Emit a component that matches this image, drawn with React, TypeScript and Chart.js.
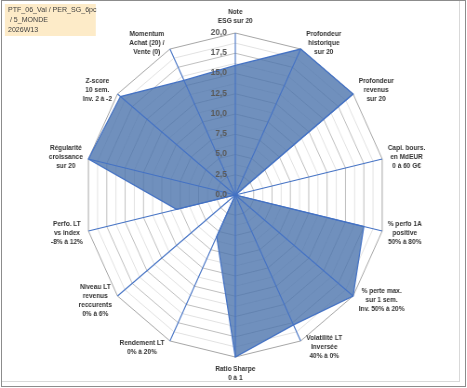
import React, { useEffect, useRef } from 'react';
import { Chart, registerables } from 'chart.js';

Chart.register(...registerables);

const categories: string[][] = [
  ['Note', 'ESG sur 20'],
  ['Profondeur', 'historique', 'sur 20'],
  ['Profondeur', 'revenus', 'sur 20'],
  ['Capi. bours.', 'en MdEUR', '0 à 60 G€'],
  ['% perfo 1A', 'positive', '50% à 80%'],
  ['% perte max.', 'sur 1 sem.', 'Inv. 50% à 20%'],
  ['Volatilité LT', 'Inversée', '40% à 0%'],
  ['Ratio Sharpe', '0 à 1'],
  ['Rendement LT', '0% à 20%'],
  ['Niveau LT', 'revenus', 'reccurents', '0% à 6%'],
  ['Perfo. LT', 'vs index', '-8% à 12%'],
  ['Régularité', 'croissance', 'sur 20'],
  ['Z-score', '10 sem.', 'Inv. 2 à -2'],
  ['Momentum', 'Achat (20) /', 'Vente (0)'],
];

const scores: number[] = [16, 20, 20, 0, 17.5, 20, 17.8, 20, 5.7, 0, 8, 20, 19.5, 15.7];

const tickValues: number[] = [0, 2.5, 5, 7.5, 10, 12.5, 15, 17.5, 20];

const titleLines: string[] = ['PTF_06_Val / PER_SG_6pc', ' / 5_MONDE', '2026W13'];

const SCALE_X = 0.93;
const FONT = '"Liberation Sans", Arial, sans-serif';

const overlayPlugin = {
  id: 'overlay',
  afterDatasetsDraw(chart: any) {
    const s = chart.scales.r;
    const ctx: CanvasRenderingContext2D = chart.ctx;
    const n = categories.length;
    const r = s.drawingArea;
    ctx.save();
    // spokes
    ctx.strokeStyle = '#4472C4';
    ctx.lineWidth = 1.1;
    for (let i = 0; i < n; i++) {
      const p = s.getPointPosition(i, r);
      ctx.beginPath();
      ctx.moveTo(s.xCenter, s.yCenter);
      ctx.lineTo(p.x, p.y);
      ctx.stroke();
    }
    // tick labels
    ctx.font = 'bold 9px ' + FONT;
    ctx.fillStyle = '#595959';
    ctx.textAlign = 'right';
    ctx.textBaseline = 'middle';
    tickValues.forEach((v) => {
      const d = s.getDistanceFromCenterForValue(v);
      ctx.fillText(v.toFixed(1).replace('.', ','), s.xCenter - 9, s.yCenter - d - 0.5);
    });
    // point labels
    ctx.font = 'bold 7px ' + FONT;
    ctx.fillStyle = '#333333';
    ctx.textAlign = 'center';
    const lh = 9;
    for (let i = 0; i < n; i++) {
      const lines = categories[i];
      const p = s.getPointPosition(i, r);
      const dx = p.x - s.xCenter;
      const dy = p.y - s.yCenter;
      const maxW = Math.max(...lines.map((l) => ctx.measureText(l).width));
      let cx: number;
      let cy: number;
      if (Math.abs(dx) < 1) {
        cx = p.x;
        cy = dy < 0 ? p.y - 12 - ((lines.length - 1) * lh) / 2 : p.y + 12 + ((lines.length - 1) * lh) / 2;
      } else {
        cx = p.x + Math.sign(dx) * (maxW / 2 + 6);
        cy = p.y + (7 * dy) / r;
      }
      lines.forEach((l, k) => {
        ctx.fillText(l, cx, cy + (k - (lines.length - 1) / 2) * lh);
      });
    }
    ctx.restore();
  },
};

export default function App() {
  const canvasRef = useRef<HTMLCanvasElement | null>(null);

  useEffect(() => {
    if (!canvasRef.current) return;
    const chart = new Chart(canvasRef.current, {
      type: 'radar',
      data: {
        labels: categories,
        datasets: [
          {
            data: scores,
            backgroundColor: 'rgba(76,116,172,0.8)',
            borderColor: '#4472C4',
            borderWidth: 1.25,
            pointRadius: 0,
            fill: true,
          },
        ],
      },
      options: {
        responsive: false,
        maintainAspectRatio: false,
        animation: false,
        devicePixelRatio: 1,
        layout: { padding: { left: 91, right: 87, top: 33, bottom: 31 } },
        plugins: { legend: { display: false }, tooltip: { enabled: false } },
        scales: {
          r: {
            min: 0,
            max: 20,
            ticks: { stepSize: 1.25, display: false },
            pointLabels: { display: false },
            angleLines: { display: false },
            grid: {
              lineWidth: 1,
              color: (c: any) => {
                const v = c.tick ? c.tick.value : 0;
                if (v >= 20) return '#a6a6a6';
                return Math.round(v / 1.25) % 2 === 0 ? '#bfbfbf' : '#e2e2e2';
              },
            },
          },
        },
      } as any,
      plugins: [overlayPlugin],
    });
    return () => chart.destroy();
  }, []);

  return (
    <div>
      <div
        style={{
          position: 'absolute',
          left: 1,
          top: 0,
          width: 463,
          height: 385,
          border: '1px solid #8c8c8c',
          background: '#ffffff',
        }}
      />
      <div
        style={{
          position: 'absolute',
          left: 2,
          top: 1,
          width: 457,
          height: 380,
          borderRight: '1px solid #d9d9d9',
          borderBottom: '1px solid #d9d9d9',
        }}
      />
      <div
        style={{
          position: 'absolute',
          left: 0,
          top: 0,
          width: 502,
          height: 388,
          transform: `scaleX(${SCALE_X})`,
          transformOrigin: '0 0',
        }}
      >
        <canvas ref={canvasRef} width={502} height={388} style={{ display: 'block', width: 502, height: 388 }} />
        <div
          style={{
            position: 'absolute',
            left: 5.4,
            top: 4,
            width: 98,
            height: 32,
            background: '#FDEBC8',
            boxSizing: 'border-box',
            paddingLeft: 3.2,
            paddingTop: 1,
            fontFamily: FONT,
            fontSize: '7.6px',
            lineHeight: '10px',
            color: '#404040',
            whiteSpace: 'pre',
          }}
        >
          {titleLines.map((t, i) => (
            <div key={i}>{t}</div>
          ))}
        </div>
      </div>
    </div>
  );
}
